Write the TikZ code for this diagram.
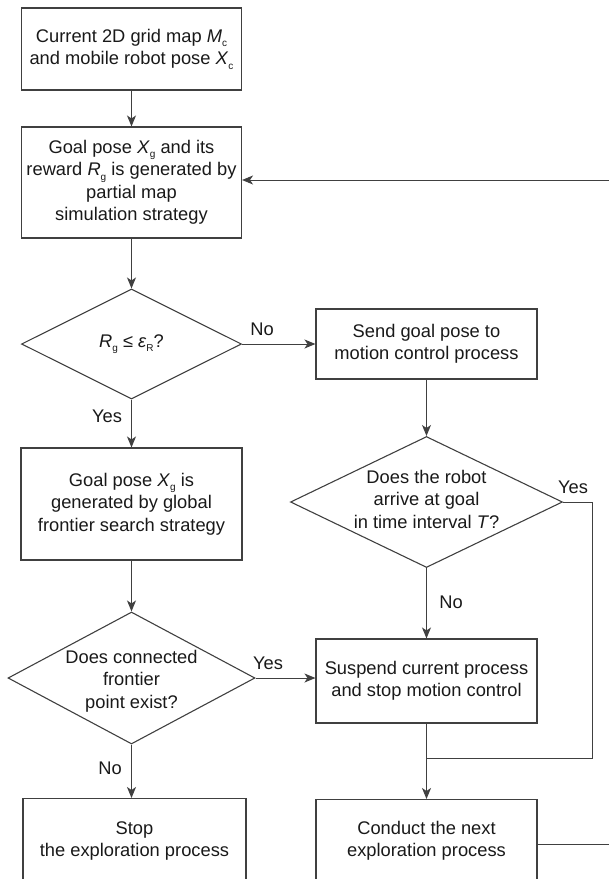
\documentclass[tikz,border=0pt]{standalone}
\usepackage{fontspec}
\setmainfont{Liberation Sans}
\usetikzlibrary{shapes.geometric,arrows.meta}
\newcommand{\sbx}[1]{\raisebox{-0.45ex}{\fontsize{10}{10}\selectfont #1}}
\begin{document}
\begin{tikzpicture}[x=1pt,y=-1pt,
  every node/.style={font=\fontsize{18.3}{22.5}\selectfont, text=black!90},
  box/.style={draw=black!75, line width=1.1pt, rectangle, align=center, inner sep=0pt},
  dia/.style={draw=black!75, line width=1.1pt, diamond, inner sep=0pt},
  txt/.style={align=center, inner sep=0pt},
  arr/.style={draw=black!75, line width=1pt, -{Stealth[length=11pt,width=9pt,inset=3pt]}},
  ln/.style={draw=black!75, line width=1pt},
  lbl/.style={inner sep=0pt}
]
\useasboundingbox (0,0) rectangle (609,879);
\clip (0,0) rectangle (609,879);

% left column
\node[box, minimum width=220pt, minimum height=82pt] (start) at (131.5,49)
  {Current 2D grid map \textit{M}\sbx{c}\\and mobile robot pose \textit{X}\sbx{c}};
\node[box, minimum width=220pt, minimum height=111pt] (goal) at (131.5,182.5)
  {Goal pose \textit{X}\sbx{g} and its\\reward \textit{R}\sbx{g} is generated by\\partial map\\simulation strategy};
\node[dia, minimum width=220pt, minimum height=110pt] (d1) at (131.5,344) {};
\node[txt] (d1t) at (131.5,344) {\textit{R}\sbx{g} ≤ \textit{ε}\sbx{R}?};
\node[box, minimum width=221pt, minimum height=112pt] (gl) at (131.5,504)
  {Goal pose \textit{X}\sbx{g} is\\generated by global\\frontier search strategy};
\node[dia, minimum width=247pt, minimum height=132pt] (d2) at (131.5,678) {};
\node[txt] (d2t) at (131.5,681) {Does connected\\frontier\\point exist?};
\node[box, minimum width=223pt, minimum height=120pt, anchor=north] (stop) at (134.5,798) {};
\node[txt] (stopt) at (134.5,841) {Stop\\the exploration process};

% right column
\node[box, minimum width=221pt, minimum height=70pt] (send) at (426.5,344)
  {Send goal pose to\\motion control process};
\node[dia, minimum width=272pt, minimum height=131pt] (d3) at (426.5,502) {};
\node[txt] (d3t) at (426.5,499) {Does the robot\\arrive at goal\\in time interval \textit{T}?};
\node[box, minimum width=221pt, minimum height=84pt] (susp) at (426.5,681)
  {Suspend current process\\and stop motion control};
\node[box, minimum width=221pt, minimum height=120pt, anchor=north] (cond) at (426.5,799) {};
\node[txt] (condt) at (426.5,841) {Conduct the next\\exploration process};

% labels
\node[lbl] (no1) at (262,329) {No};
\node[lbl] (yes1) at (107,416) {Yes};
\node[lbl] (yes2) at (268,663) {Yes};
\node[lbl] (no2) at (110,768) {No};
\node[lbl] (yes3) at (573,487) {Yes};
\node[lbl] (no3) at (451,602) {No};

% coordinates
\coordinate (yr) at (592,502);
\coordinate (jn) at (426.5,758);
\coordinate (fbA) at (612,844);
\coordinate (fbB) at (612,180);

% connectors
\draw[arr] (start.south) -- (goal.north);
\draw[arr] (goal.south) -- (d1.north);
\draw[arr] (d1.east) -- (send.west);
\draw[arr] (d1.south) -- (gl.north);
\draw[arr] (gl.south) -- (d2.north);
\draw[arr] (d2.east) -- (d2.east -| susp.west);
\draw[arr] (d2.south) -- (d2.south |- stop.north);
\draw[arr] (send.south) -- (d3.north);
\draw[arr] (d3.south) -- (susp.north);
\draw[ln] (d3.east) -- (yr) |- (jn);
\draw[arr] (susp.south) -- (cond.north);
\draw[ln] (cond.east |- fbA) -- (fbA);
\draw[arr] (fbB) -- (fbB -| goal.east);
\end{tikzpicture}
\end{document}
